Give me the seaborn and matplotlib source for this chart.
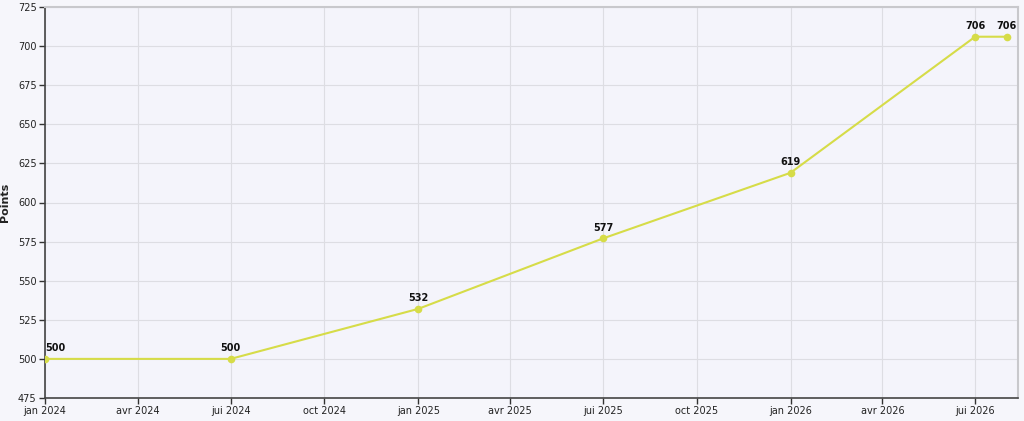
import matplotlib
matplotlib.use("Agg")
import matplotlib.pyplot as plt
import matplotlib.dates as mdates
import seaborn as sns
import pandas as pd
import numpy as np

dates = ["2024-01-01", "2024-07-01", "2025-01-01", "2025-07-01", "2026-01-01", "2026-07-01", "2026-08-01"]
points = [500, 500, 532, 577, 619, 706, 706]
month_names = {1: "jan", 4: "avr", 7: "jui", 10: "oct"}

df = pd.DataFrame({"date": pd.to_datetime(dates), "points": points})

sns.set_theme(style="white")
plt.rcParams['font.family'] = ['DejaVu Sans']

fig = plt.figure(figsize=(10.24, 4.21), dpi=100)
fig.patch.set_facecolor("#f6f6fb")
ax = fig.add_axes([45/1024, 23/421, (1018-45)/1024, (398-7)/421])
ax.set_facecolor("#f4f4fb")

color = "#d6dc48"
sns.lineplot(data=df, x="date", y="points", ax=ax, color=color, linewidth=1.5,
             marker="o", markersize=5.5, markeredgewidth=0, zorder=3)
for i, (d, v) in enumerate(zip(df["date"], df["points"])):
    ha = "left" if i == 0 else "center"
    ax.annotate(f"{v}", (d, v), xytext=(0, 4), textcoords="offset points",
                ha=ha, va="bottom", fontsize=7, fontweight="bold", color="#111111")

ax.set_ylim(475, 725)
ax.set_yticks(np.arange(475, 726, 25))
ax.set_xlim(pd.Timestamp("2024-01-01"), pd.Timestamp("2026-08-12"))
ticks = pd.date_range("2024-01-01", "2026-07-01", freq="QS")
ax.set_xticks(ticks)
ax.set_xticklabels([f"{month_names[t.month]} {t.year}" for t in ticks])
ax.tick_params(axis="both", labelsize=7, length=4, width=1, color="#333333", direction="out",
               bottom=True, left=True, pad=2, labelcolor="#222222")
ax.grid(True, color="#dddde3", linewidth=0.8)
ax.set_axisbelow(True)
for s in ["top", "right"]:
    ax.spines[s].set_color("#c8c8cc")
    ax.spines[s].set_linewidth(1.5)
for s in ["left", "bottom"]:
    ax.spines[s].set_color("#444444")
    ax.spines[s].set_linewidth(1.2)
ax.set_xlabel("")
ax.set_ylabel("Points", fontsize=8, color="#222222", labelpad=6, fontweight="semibold")

fig.savefig("out.png", dpi=100, facecolor=fig.get_facecolor())
